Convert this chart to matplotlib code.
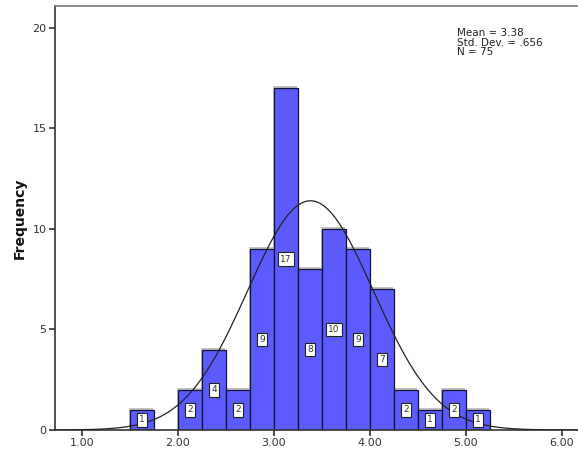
import matplotlib
matplotlib.use("Agg")
import matplotlib.pyplot as plt
import numpy as np

bin_edges = [1.50, 1.75, 2.00, 2.25, 2.50, 2.75, 3.00, 3.25, 3.50, 3.75,
             4.00, 4.25, 4.50, 4.75, 5.00, 5.25]
counts = [1, 0, 2, 4, 2, 9, 17, 8, 10, 9, 7, 2, 1, 2, 1]
mean = 3.38
std_dev = 0.656
n_total = 75
x_ticks = [1.0, 2.0, 3.0, 4.0, 5.0, 6.0]
y_ticks = [0, 5, 10, 15, 20]

bar_color = "#5b5bff"
text_color = "#333333"

fig = plt.figure(figsize=(5.78, 4.5), dpi=100)
ax = fig.add_axes([55 / 578, 20 / 450, 523 / 578, 424 / 450])

edges = np.array(bin_edges)
width = edges[1] - edges[0]
lefts = edges[:-1]
heights = np.array(counts)
shown = heights > 0

# shadow behind the bars
dx = 0.012
dy = 0.1
ax.bar(lefts[shown] - dx, heights[shown] + dy, width=width, align="edge",
       color="#c4c4c4", edgecolor="none", zorder=1)
ax.bar(lefts[shown], heights[shown], width=width, align="edge",
       color=bar_color, edgecolor="#111133", linewidth=0.9, zorder=2)

# normal curve
xs = np.linspace(0.72, 6.17, 400)
ys = n_total * width / (std_dev * np.sqrt(2 * np.pi)) * np.exp(-0.5 * ((xs - mean) / std_dev) ** 2)
ax.plot(xs, ys, color="#222222", linewidth=0.9, zorder=3)

for left, h in zip(lefts[shown], heights[shown]):
    ax.text(left + width / 2, h / 2, str(h), ha="center", va="center",
            fontsize=6.5, color=text_color, zorder=4,
            bbox=dict(boxstyle="square,pad=0.25", facecolor="white",
                      edgecolor="#222222", linewidth=0.8))

ax.set_xlim(0.71875, 6.1667)
ax.set_ylim(0, 21.09)
ax.set_xticks(x_ticks)
ax.set_xticklabels([f"{t:.2f}" for t in x_ticks])
ax.set_yticks(y_ticks)
ax.tick_params(axis="both", direction="out", length=4, width=1.2,
               labelsize=8, labelcolor=text_color, color="#333333", pad=2)

ax.spines["right"].set_visible(False)
for side in ("left", "bottom"):
    ax.spines[side].set_linewidth(1.2)
    ax.spines[side].set_color("#333333")
ax.spines["top"].set_linewidth(1.2)
ax.spines["top"].set_color("#777777")

ax.set_ylabel("Frequency", fontsize=10, fontweight="bold", color="#111111", labelpad=4)

ax.text(457 / 578 * 578 / 523 - 55 / 523, 1 - (28 - 6) / 424,
        f"Mean = {mean:.2f}\nStd. Dev. = .656\nN = {n_total}",
        transform=ax.transAxes, ha="left", va="top", fontsize=7.5,
        color="#222222", linespacing=0.95)

fig.savefig("out.png", dpi=100)
